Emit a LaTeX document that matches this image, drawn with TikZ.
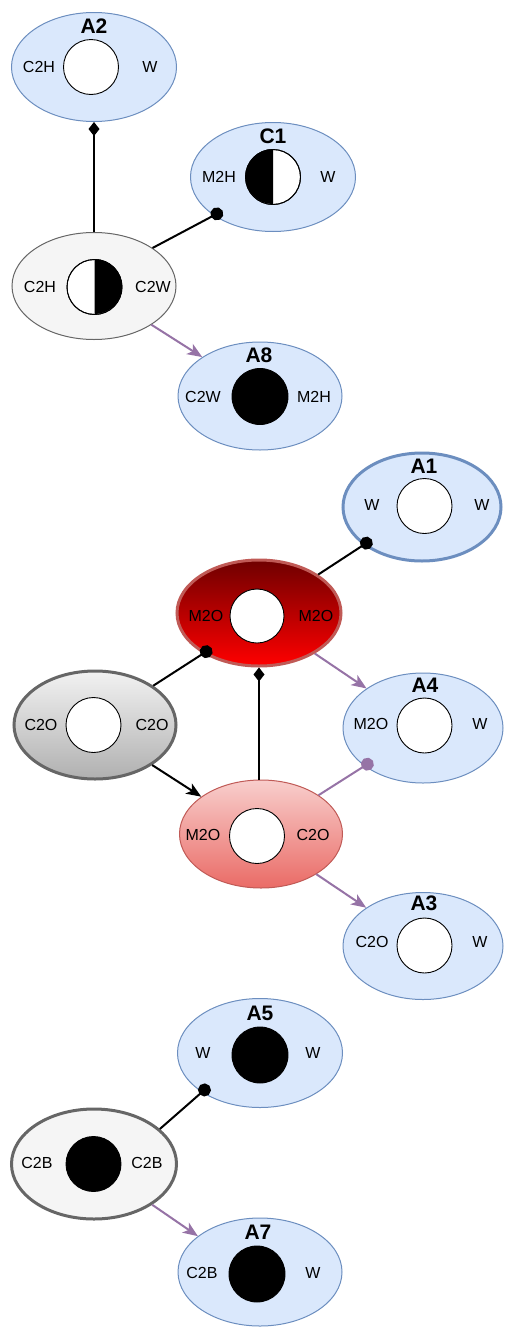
\documentclass[tikz,border=0pt]{standalone}
\usepackage{fontspec}
\setmainfont{Liberation Sans}
\usetikzlibrary{arrows.meta,shapes.geometric}
\definecolor{blueFill}{HTML}{DAE8FC}
\definecolor{blueLine}{HTML}{6C8EBF}
\definecolor{greyFill}{HTML}{F5F5F5}
\definecolor{greyLine}{HTML}{666666}
\definecolor{purpleLine}{HTML}{9673A6}
\definecolor{redLine}{HTML}{C05A56}
\definecolor{darkRed}{HTML}{6F0000}
\definecolor{brightRed}{HTML}{FF0000}
\definecolor{pinkTop}{HTML}{F8CECC}
\definecolor{pinkBottom}{HTML}{EA6B66}
\definecolor{greyTop}{HTML}{F2F2F2}
\definecolor{greyBottom}{HTML}{B0B0B0}
\tikzset{
  oval/.style={ellipse, inner sep=0pt, minimum width=165pt, minimum height=109pt},
  blueoval/.style={oval, fill=blueFill, draw=blueLine, line width=1pt},
  greyoval/.style={oval, fill=greyFill, draw=greyLine, line width=1pt},
  hole/.style={circle, draw=black, line width=0.9pt, fill=white, minimum size=55pt, inner sep=0pt},
  fullhole/.style={hole, fill=black},
  lbl/.style={font=\fontsize{16}{18}\selectfont, inner sep=0pt},
  ttl/.style={font=\bfseries\fontsize{21}{24}\selectfont, inner sep=0pt},
  link/.style={line width=2pt, draw=black},
  plink/.style={line width=2pt, draw=purpleLine},
  dotend/.style={-{Circle[length=13pt]}, shorten >=-10pt},
  arrowend/.style={-{Stealth[length=15pt,width=12pt,inset=4pt]}},
  diamondend/.style={-{Diamond[length=14pt,width=11pt]}},
}
\begin{document}
\begin{tikzpicture}[x=1pt,y=-1pt]
\useasboundingbox (0,0) rectangle (504,1328);

% ---------- upper group ----------
\node[blueoval] (a2) at (94,67) {};
\node[ttl] (a2t) at (94,26) {A2};
\node[hole] (a2c) at (91,67) {};
\node[lbl] (a2l) at (39,67) {C2H};
\node[lbl] (a2r) at (150,67) {W};

\node[blueoval] (c1) at (273,177) {};
\node[ttl] (c1t) at (273,136) {C1};
\node[hole] (c1c) at (273,177) {};
\fill[black] (c1c.north) arc[start angle=90, end angle=270, radius=27.5pt] -- cycle;
\draw[line width=0.9pt] (c1c.center) circle[radius=27.5pt];
\node[lbl] (c1l) at (219,177) {M2H};
\node[lbl] (c1r) at (328,177) {W};

\node[greyoval, minimum width=164pt, minimum height=107pt] (g1) at (94,286) {};
\node[hole] (g1c) at (94.5,287) {};
\fill[black] (g1c.north) arc[start angle=90, end angle=-90, radius=27.5pt] -- cycle;
\draw[line width=0.9pt] (g1c.center) circle[radius=27.5pt];
\node[lbl] (g1l) at (40,287) {C2H};
\node[lbl] (g1r) at (153,287) {C2W};

\node[blueoval, minimum width=164pt, minimum height=108pt] (a8) at (260,396) {};
\node[ttl] (a8t) at (259,355) {A8};
\node[fullhole, minimum size=56pt] (a8c) at (260,396.5) {};
\node[lbl] (a8l) at (203,397) {C2W};
\node[lbl] (a8r) at (314,397) {M2H};

% ---------- middle group ----------
\node[blueoval, draw=blueLine, line width=3pt, minimum width=158pt, minimum height=108pt] (a1) at (422,507) {};
\node[ttl] (a1t) at (424,466) {A1};
\node[hole] (a1c) at (424.5,506) {};
\node[lbl] (a1l) at (372,505) {W};
\node[lbl] (a1r) at (482,505) {W};

\node[oval, top color=darkRed, bottom color=brightRed, draw=redLine, line width=3pt, minimum width=164pt, minimum height=106pt] (r) at (259,613) {};
\node[hole, minimum size=54pt] (rc) at (257,616) {};
\node[lbl] (rl) at (206,616) {M2O};
\node[lbl] (rr) at (316,616) {M2O};

\node[oval, top color=greyTop, bottom color=greyBottom, draw=greyLine, line width=3pt, minimum width=162pt, minimum height=108pt] (g2) at (95,725) {};
\node[hole] (g2c) at (93.5,725) {};
\node[lbl] (g2l) at (41,725) {C2O};
\node[lbl] (g2r) at (152,725) {C2O};

\node[blueoval, minimum width=160pt, minimum height=110pt] (a4) at (423,728) {};
\node[ttl] (a4t) at (425,685) {A4};
\node[hole] (a4c) at (424.5,725.5) {};
\node[lbl] (a4l) at (371,724) {M2O};
\node[lbl] (a4r) at (480,724) {W};

\node[oval, top color=pinkTop, bottom color=pinkBottom, draw=redLine, line width=1pt, minimum width=163pt, minimum height=108pt] (p) at (261,834) {};
\node[hole] (pc) at (257,836) {};
\node[lbl] (pl) at (203,835) {M2O};
\node[lbl] (pr) at (313,835) {C2O};

\node[blueoval, minimum width=160pt, minimum height=107pt] (a3) at (423,946) {};
\node[ttl] (a3t) at (424,903) {A3};
\node[hole] (a3c) at (424.5,945.5) {};
\node[lbl] (a3l) at (372,942) {C2O};
\node[lbl] (a3r) at (480,942) {W};

% ---------- lower group ----------
\node[blueoval] (a5) at (260,1053) {};
\node[ttl] (a5t) at (260,1013) {A5};
\node[fullhole, minimum size=56pt] (a5c) at (260,1055) {};
\node[lbl] (a5l) at (203,1053) {W};
\node[lbl] (a5r) at (313,1053) {W};

\node[greyoval, draw=greyLine, line width=3pt, minimum width=165pt, minimum height=110pt] (g3) at (94,1164) {};
\node[fullhole] (g3c) at (93.5,1164) {};
\node[lbl] (g3l) at (37,1163) {C2B};
\node[lbl] (g3r) at (147,1163) {C2B};

\node[blueoval, minimum width=164pt, minimum height=108pt] (a7) at (260,1272) {};
\node[ttl] (a7t) at (258,1232) {A7};
\node[fullhole, minimum size=56pt] (a7c) at (257,1274) {};
\node[lbl] (a7l) at (202,1273) {C2B};
\node[lbl] (a7r) at (313,1273) {W};

% ---------- connectors ----------
\draw[link, diamondend] (g1.north) -- (a2.south);
\draw[link, dotend] (g1.33) -- (c1.213);
\draw[plink, arrowend] (g1.326) -- (a8.146);

\draw[link, dotend] (r.33) -- (a1.213);
\draw[link, dotend] (g2.34) -- (r.216);
\draw[link, diamondend] (r.south |- p.north) -- (r.south);
\draw[link, arrowend] (g2.325) -- (p.148);
\draw[plink, arrowend] (r.324) -- (a4.145);
\draw[plink, dotend] (p.34) -- (a4.213);
\draw[plink, arrowend] (p.324) -- (a3.146);

\draw[link, dotend] (g3.28) -- (a5.214);
\draw[plink, arrowend] (g3.325) -- (a7.150);
\end{tikzpicture}
\end{document}
